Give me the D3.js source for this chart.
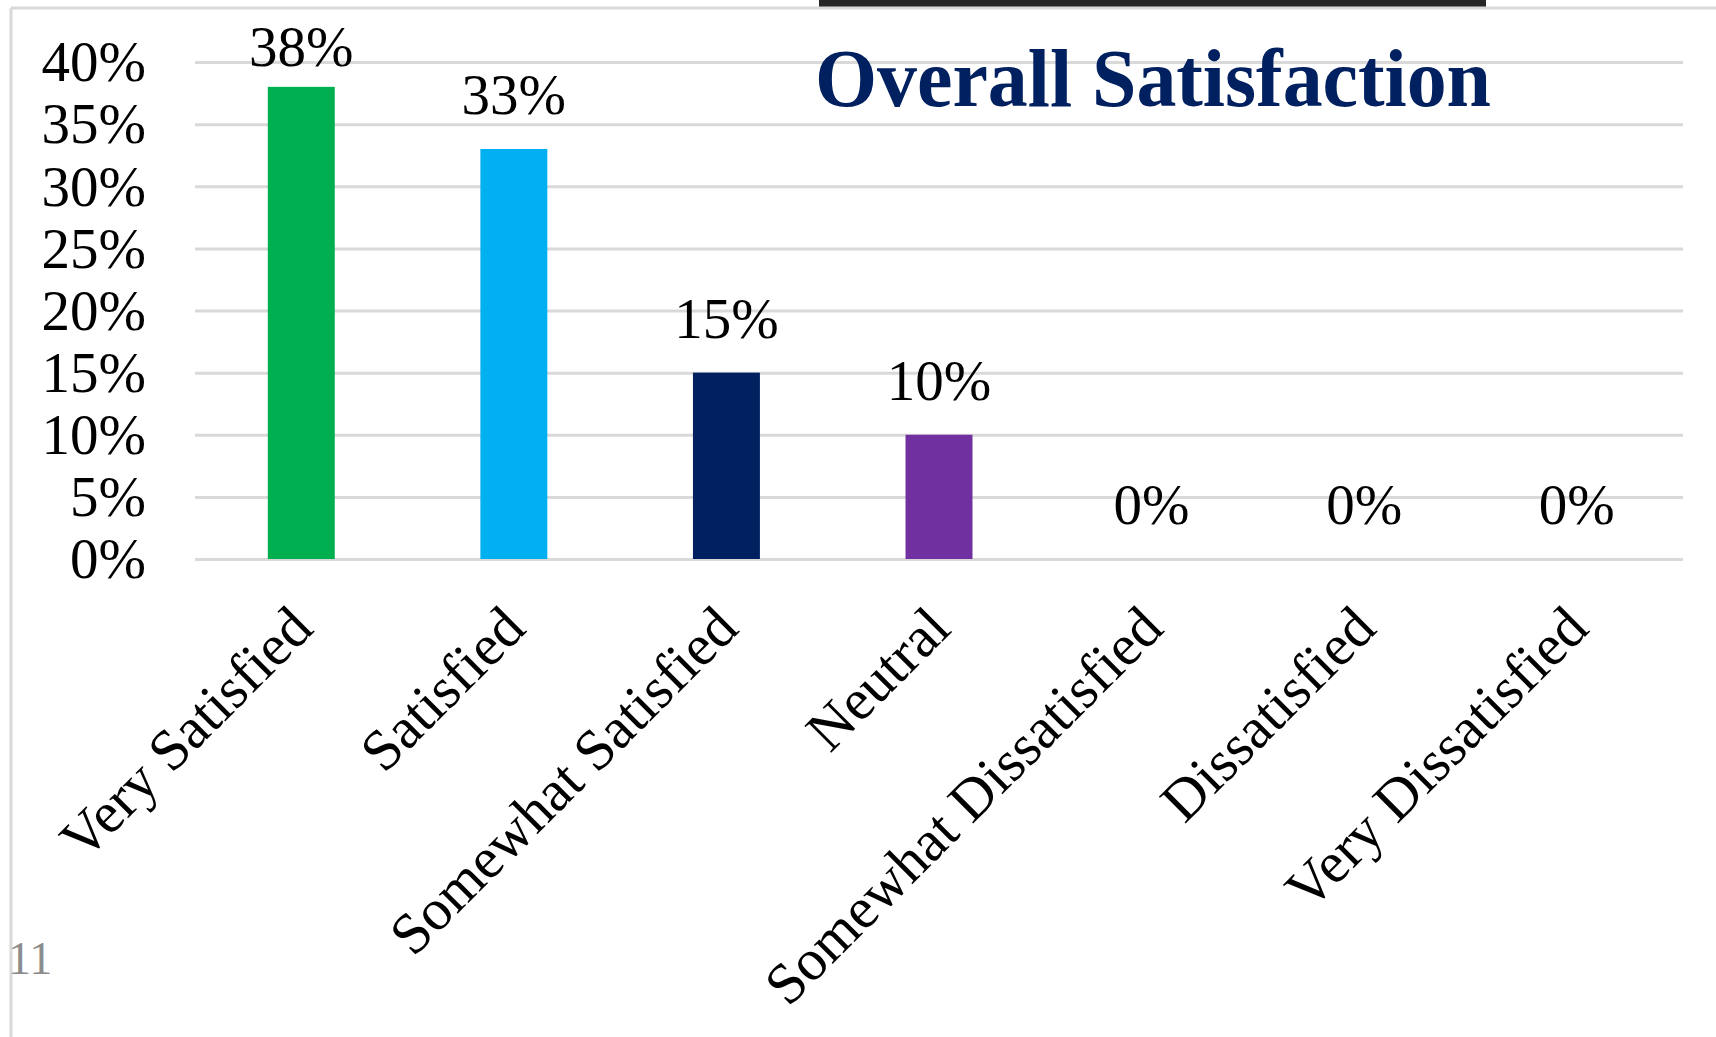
<!DOCTYPE html>
<html>
<head>
<meta charset="utf-8">
<script src="https://cdn.jsdelivr.net/npm/d3@7"></script>
<style>
  html, body { margin: 0; padding: 0; background: #ffffff; overflow: hidden; }
  svg { display: block; }
  text { font-family: "Liberation Serif", "Times New Roman", serif; }
</style>
</head>
<body>
<svg id="chart" width="1716" height="1037"></svg>
<script>
// ---- data ----
const categories = ["Very Satisfied", "Satisfied", "Somewhat Satisfied", "Neutral",
                    "Somewhat Dissatisfied", "Dissatisfied", "Very Dissatisfied"];
const values = [0.38, 0.33, 0.15, 0.10, 0, 0, 0];
const barColors = ["#00b050", "#00b0f0", "#002060", "#7030a0", "#a5a5a5", "#a5a5a5", "#a5a5a5"];
const yTicks = [0, 0.05, 0.10, 0.15, 0.20, 0.25, 0.30, 0.35, 0.40];
const titleText = "Overall Satisfaction";
const pageNumber = "11";

// ---- layout ----
const svg = d3.select("#chart");
const W = 1716, H = 1037;
const plot = { left: 195, right: 1683, top: 62, bottom: 559 };

const x = d3.scaleBand()
  .domain(categories)
  .range([plot.left, plot.right])
  .paddingInner(0.685)
  .paddingOuter(0.3425);

const y = d3.scaleLinear()
  .domain([0, 0.40])
  .range([plot.bottom, plot.top]);

const fmt = d3.format(".0%");

// frame (slide edges)
svg.append("rect").attr("x", 819).attr("y", 0).attr("width", 667).attr("height", 7).attr("fill", "#262626");
svg.append("line").attr("x1", 11).attr("x2", W).attr("y1", 8).attr("y2", 8)
  .attr("stroke", "#d9d9d9").attr("stroke-width", 3);
svg.append("line").attr("x1", 11).attr("x2", 11).attr("y1", 8).attr("y2", H)
  .attr("stroke", "#d9d9d9").attr("stroke-width", 3);

// gridlines
const yGrid = d3.axisLeft(y).tickValues(yTicks).tickSize(-(plot.right - plot.left)).tickFormat("");
const grid = svg.append("g").attr("transform", `translate(${plot.left},0)`).call(yGrid);
grid.select(".domain").remove();
grid.selectAll(".tick line").attr("stroke", "#d9d9d9").attr("stroke-width", 3);

// y axis labels
const yAxis = d3.axisLeft(y).tickValues(yTicks).tickSize(0).tickPadding(0).tickFormat(fmt);
const ya = svg.append("g").attr("transform", `translate(146,0)`).call(yAxis);
ya.select(".domain").remove();
ya.selectAll(".tick text")
  .attr("font-family", "Liberation Serif, Times New Roman, serif")
  .attr("font-size", 57).attr("fill", "#000").attr("dy", "0.33em");

// bars
svg.append("g").selectAll("rect.bar")
  .data(categories)
  .join("rect")
  .attr("class", "bar")
  .attr("x", d => x(d))
  .attr("width", x.bandwidth())
  .attr("y", (d, i) => y(values[i]))
  .attr("height", (d, i) => y(0) - y(values[i]))
  .attr("fill", (d, i) => barColors[i]);

// value labels
svg.append("g").selectAll("text.val")
  .data(categories)
  .join("text")
  .attr("class", "val")
  .attr("x", d => x(d) + x.bandwidth() / 2)
  .attr("y", (d, i) => Math.max(y(values[i]) - 35, 66))
  .attr("text-anchor", "middle")
  .attr("font-size", 57)
  .attr("fill", "#000")
  .text((d, i) => fmt(values[i]));

// category labels (rotated)
const xAxis = d3.axisBottom(x).tickSize(0).tickPadding(0);
const xa = svg.append("g").attr("transform", `translate(0,${plot.bottom})`).call(xAxis);
xa.select(".domain").remove();
xa.selectAll(".tick text")
  .attr("font-family", "Liberation Serif, Times New Roman, serif")
  .attr("font-size", 58).attr("fill", "#000")
  .attr("text-anchor", "end")
  .attr("dy", 0)
  .attr("y", 0)
  .attr("transform", "translate(14,72) rotate(-45)");

// title
svg.append("text")
  .attr("x", 815).attr("y", 106)
  .attr("font-size", 82).attr("font-weight", "bold")
  .attr("fill", "#002060")
  .attr("textLength", 676).attr("lengthAdjust", "spacingAndGlyphs")
  .text(titleText);

// page number
svg.append("text")
  .attr("x", 8).attr("y", 974)
  .attr("font-size", 46).attr("fill", "#8c8c8c")
  .text(pageNumber);
</script>
</body>
</html>
